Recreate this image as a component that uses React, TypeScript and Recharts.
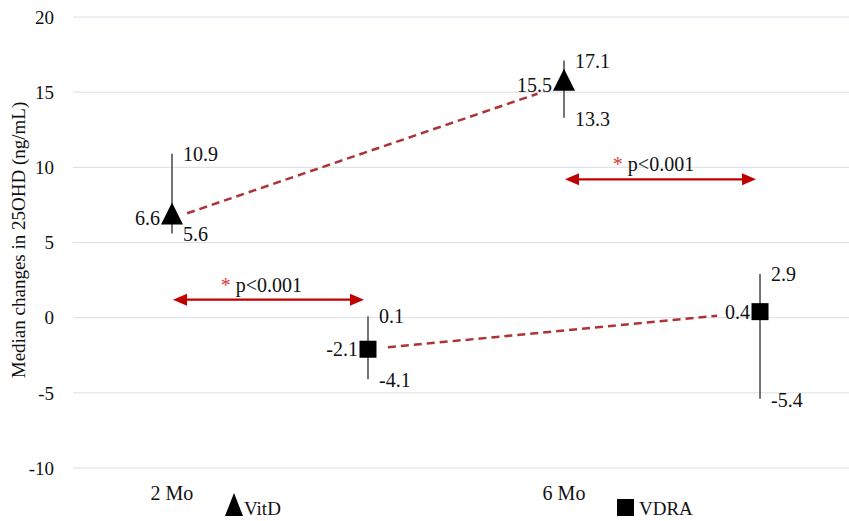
import React from 'react';
import {
  ComposedChart,
  Scatter,
  XAxis,
  YAxis,
  CartesianGrid,
  ErrorBar,
  ReferenceLine,
  Legend,
} from 'recharts';

// ---------- data ----------
const timepoints = ['2 Mo', '6 Mo'];
const vitdMedian = [6.6, 15.5];
const vitdLow = [5.6, 13.3];
const vitdHigh = [10.9, 17.1];
const vdraMedian = [-2.1, 0.4];
const vdraLow = [-4.1, -5.4];
const vdraHigh = [0.1, 2.9];
const yTicks = [-10, -5, 0, 5, 10, 15, 20];
const pArrowLevels = [1.2, 9.2];
const pTexts = ['p<0.001', 'p<0.001'];
const yAxisTitle = 'Median changes in 25OHD (ng/mL)';
const seriesNames = ['VitD', 'VDRA'];

// slots on the x axis: VitD on the left of each pair, VDRA on the right
const vitdX = timepoints.map((_, i) => 2 * i + 1);
const vdraX = timepoints.map((_, i) => 2 * i + 2);
const xTicks = vitdX;

const fmt = (v: number) => v.toFixed(1);

const makeSeries = (xs: number[], med: number[], lo: number[], hi: number[]) =>
  xs.map((x, i) => ({ x, y: med[i], err: [med[i] - lo[i], hi[i] - med[i]], label: fmt(med[i]) }));
const makeBound = (xs: number[], vals: number[]) =>
  xs.map((x, i) => ({ x, y: vals[i], label: fmt(vals[i]) }));

const vitdData = makeSeries(vitdX, vitdMedian, vitdLow, vitdHigh);
const vdraData = makeSeries(vdraX, vdraMedian, vdraLow, vdraHigh);
const highData = [...makeBound(vitdX, vitdHigh), ...makeBound(vdraX, vdraHigh)];
const lowData = [...makeBound(vitdX, vitdLow), ...makeBound(vdraX, vdraLow)];

// ---------- styles ----------
const FONT = "'Liberation Serif', 'Times New Roman', serif";
const TEXT = '#111';
const valueFont = { fontFamily: FONT, fontSize: 20, fill: TEXT };
const DASH_COLOR = '#ad3436';
const ARROW_COLOR = '#c00000';

const TriangleMarker = (p: any) => {
  const { cx, cy, payload } = p;
  if (cx == null || cy == null) return <g />;
  return (
    <g>
      <polygon points={`${cx},${cy - 16} ${cx + 11},${cy + 6} ${cx - 11},${cy + 6}`} fill="#000" />
      <text x={cx - 12} y={cy + 7} textAnchor="end" {...valueFont}>
        {payload.label}
      </text>
    </g>
  );
};

const SquareMarker = (p: any) => {
  const { cx, cy, payload } = p;
  if (cx == null || cy == null) return <g />;
  return (
    <g>
      <rect x={cx - 8.5} y={cy - 8.5} width={17} height={17} fill="#000" />
      <text x={cx - 10} y={cy + 7} textAnchor="end" {...valueFont}>
        {payload.label}
      </text>
    </g>
  );
};

const HighLabel = (p: any) => {
  const { cx, cy, payload } = p;
  if (cx == null || cy == null) return <g />;
  return (
    <text x={cx + 11} y={cy + 7} {...valueFont}>
      {payload.label}
    </text>
  );
};

const LowLabel = (p: any) => {
  const { cx, cy, payload } = p;
  if (cx == null || cy == null) return <g />;
  return (
    <text x={cx + 11} y={cy + 8} {...valueFont}>
      {payload.label}
    </text>
  );
};

const dashedShape = (gapA: number, gapB: number) => (p: any) => {
  const { x1, y1, x2, y2 } = p;
  const dx = x2 - x1;
  const dy = y2 - y1;
  const len = Math.hypot(dx, dy) || 1;
  const ux = dx / len;
  const uy = dy / len;
  return (
    <line
      x1={x1 + ux * gapA}
      y1={y1 + uy * gapA}
      x2={x2 - ux * gapB}
      y2={y2 - uy * gapB}
      stroke={DASH_COLOR}
      strokeWidth={2.5}
      strokeDasharray="8 5"
    />
  );
};

const arrowShape = (text: string) => (p: any) => {
  const { x1, y1, x2 } = p;
  const y = y1;
  const a = x1 + 1;
  const b = x2 - 4;
  const L = 14;
  const H = 6;
  const mid = (a + b) / 2 - 7;
  return (
    <g>
      <line x1={a + L - 2} y1={y} x2={b - L + 2} y2={y} stroke={ARROW_COLOR} strokeWidth={2.2} />
      <polygon points={`${a},${y} ${a + L},${y - H} ${a + L},${y + H}`} fill={ARROW_COLOR} />
      <polygon points={`${b},${y} ${b - L},${y - H} ${b - L},${y + H}`} fill={ARROW_COLOR} />
      <text x={mid} y={y - 8} textAnchor="middle" fontFamily={FONT} fontSize={20} fill={TEXT}>
        <tspan fill="#d63c3c" fontSize={20}>*</tspan>
        <tspan dx={5}>{text}</tspan>
      </text>
    </g>
  );
};

const XTick = (p: any) => {
  const { x, y, payload } = p;
  const idx = xTicks.indexOf(payload.value);
  return (
    <text x={x} y={y + 24} textAnchor="middle" fontFamily={FONT} fontSize={20} fill={TEXT}>
      {idx >= 0 ? timepoints[idx] : ''}
    </text>
  );
};

const YLabel = () => (
  <text
    x={18}
    y={240}
    transform="rotate(-90 18 240)"
    textAnchor="middle"
    dominantBaseline="central"
    fontFamily={FONT}
    fontSize={19}
    fill={TEXT}
  >
    {yAxisTitle}
  </text>
);

const LegendContent = () => (
  <svg width={849} height={33} style={{ display: 'block' }}>
    <polygon points="225,28 243,28 234,5" fill="#000" />
    <text x={244} y={27} fontFamily={FONT} fontSize={19} fill={TEXT}>
      {seriesNames[0]}
    </text>
    <rect x={617} y={11} width={17} height={17} fill="#000" />
    <text x={639} y={27} fontFamily={FONT} fontSize={19} fill={TEXT}>
      {seriesNames[1]}
    </text>
  </svg>
);

export default function App() {
  return (
    <div style={{ position: 'absolute', left: 0, top: 0, width: 849, height: 521, background: '#fff' }}>
      <ComposedChart width={849} height={521} margin={{ top: 17, right: 0, bottom: 0, left: 0 }}>
        <CartesianGrid horizontal vertical={false} stroke="#d9dfe9" strokeWidth={1} />
        <XAxis
          type="number"
          dataKey="x"
          domain={[0.495, 4.454]}
          allowDataOverflow
          ticks={xTicks}
          height={53}
          axisLine={false}
          tickLine={false}
          tick={<XTick />}
          interval={0}
        />
        <YAxis
          type="number"
          dataKey="y"
          domain={[-10, 20]}
          ticks={yTicks}
          width={73}
          axisLine={false}
          tickLine={false}
          tickMargin={13}
          tick={{ fontFamily: FONT, fontSize: 19, fill: TEXT }}
          label={<YLabel />}
        />
        <Legend
          layout="horizontal"
          verticalAlign="middle"
          align="center"
          wrapperStyle={{ left: 0, top: 488, width: 849, height: 33 }}
          content={<LegendContent />}
        />
        <ReferenceLine
          segment={[
            { x: vitdData[0].x, y: vitdData[0].y },
            { x: vitdData[1].x, y: vitdData[1].y },
          ]}
          ifOverflow="visible"
          shape={dashedShape(16, 28)}
        />
        <ReferenceLine
          segment={[
            { x: vdraData[0].x, y: vdraData[0].y },
            { x: vdraData[1].x, y: vdraData[1].y },
          ]}
          ifOverflow="visible"
          shape={dashedShape(20, 43)}
        />
        {timepoints.map((t, i) => (
          <ReferenceLine
            key={`arrow-${t}`}
            segment={[
              { x: vitdX[i], y: pArrowLevels[i] },
              { x: vdraX[i], y: pArrowLevels[i] },
            ]}
            ifOverflow="visible"
            shape={arrowShape(pTexts[i])}
          />
        ))}
        <Scatter name="high" data={highData} shape={<HighLabel />} isAnimationActive={false} legendType="none" />
        <Scatter name="low" data={lowData} shape={<LowLabel />} isAnimationActive={false} legendType="none" />
        <Scatter name={seriesNames[0]} data={vitdData} shape={<TriangleMarker />} isAnimationActive={false}>
          <ErrorBar dataKey="err" direction="y" width={0} stroke="#3a3a3a" strokeWidth={1.4} />
        </Scatter>
        <Scatter name={seriesNames[1]} data={vdraData} shape={<SquareMarker />} isAnimationActive={false}>
          <ErrorBar dataKey="err" direction="y" width={0} stroke="#3a3a3a" strokeWidth={1.4} />
        </Scatter>
      </ComposedChart>
    </div>
  );
}
